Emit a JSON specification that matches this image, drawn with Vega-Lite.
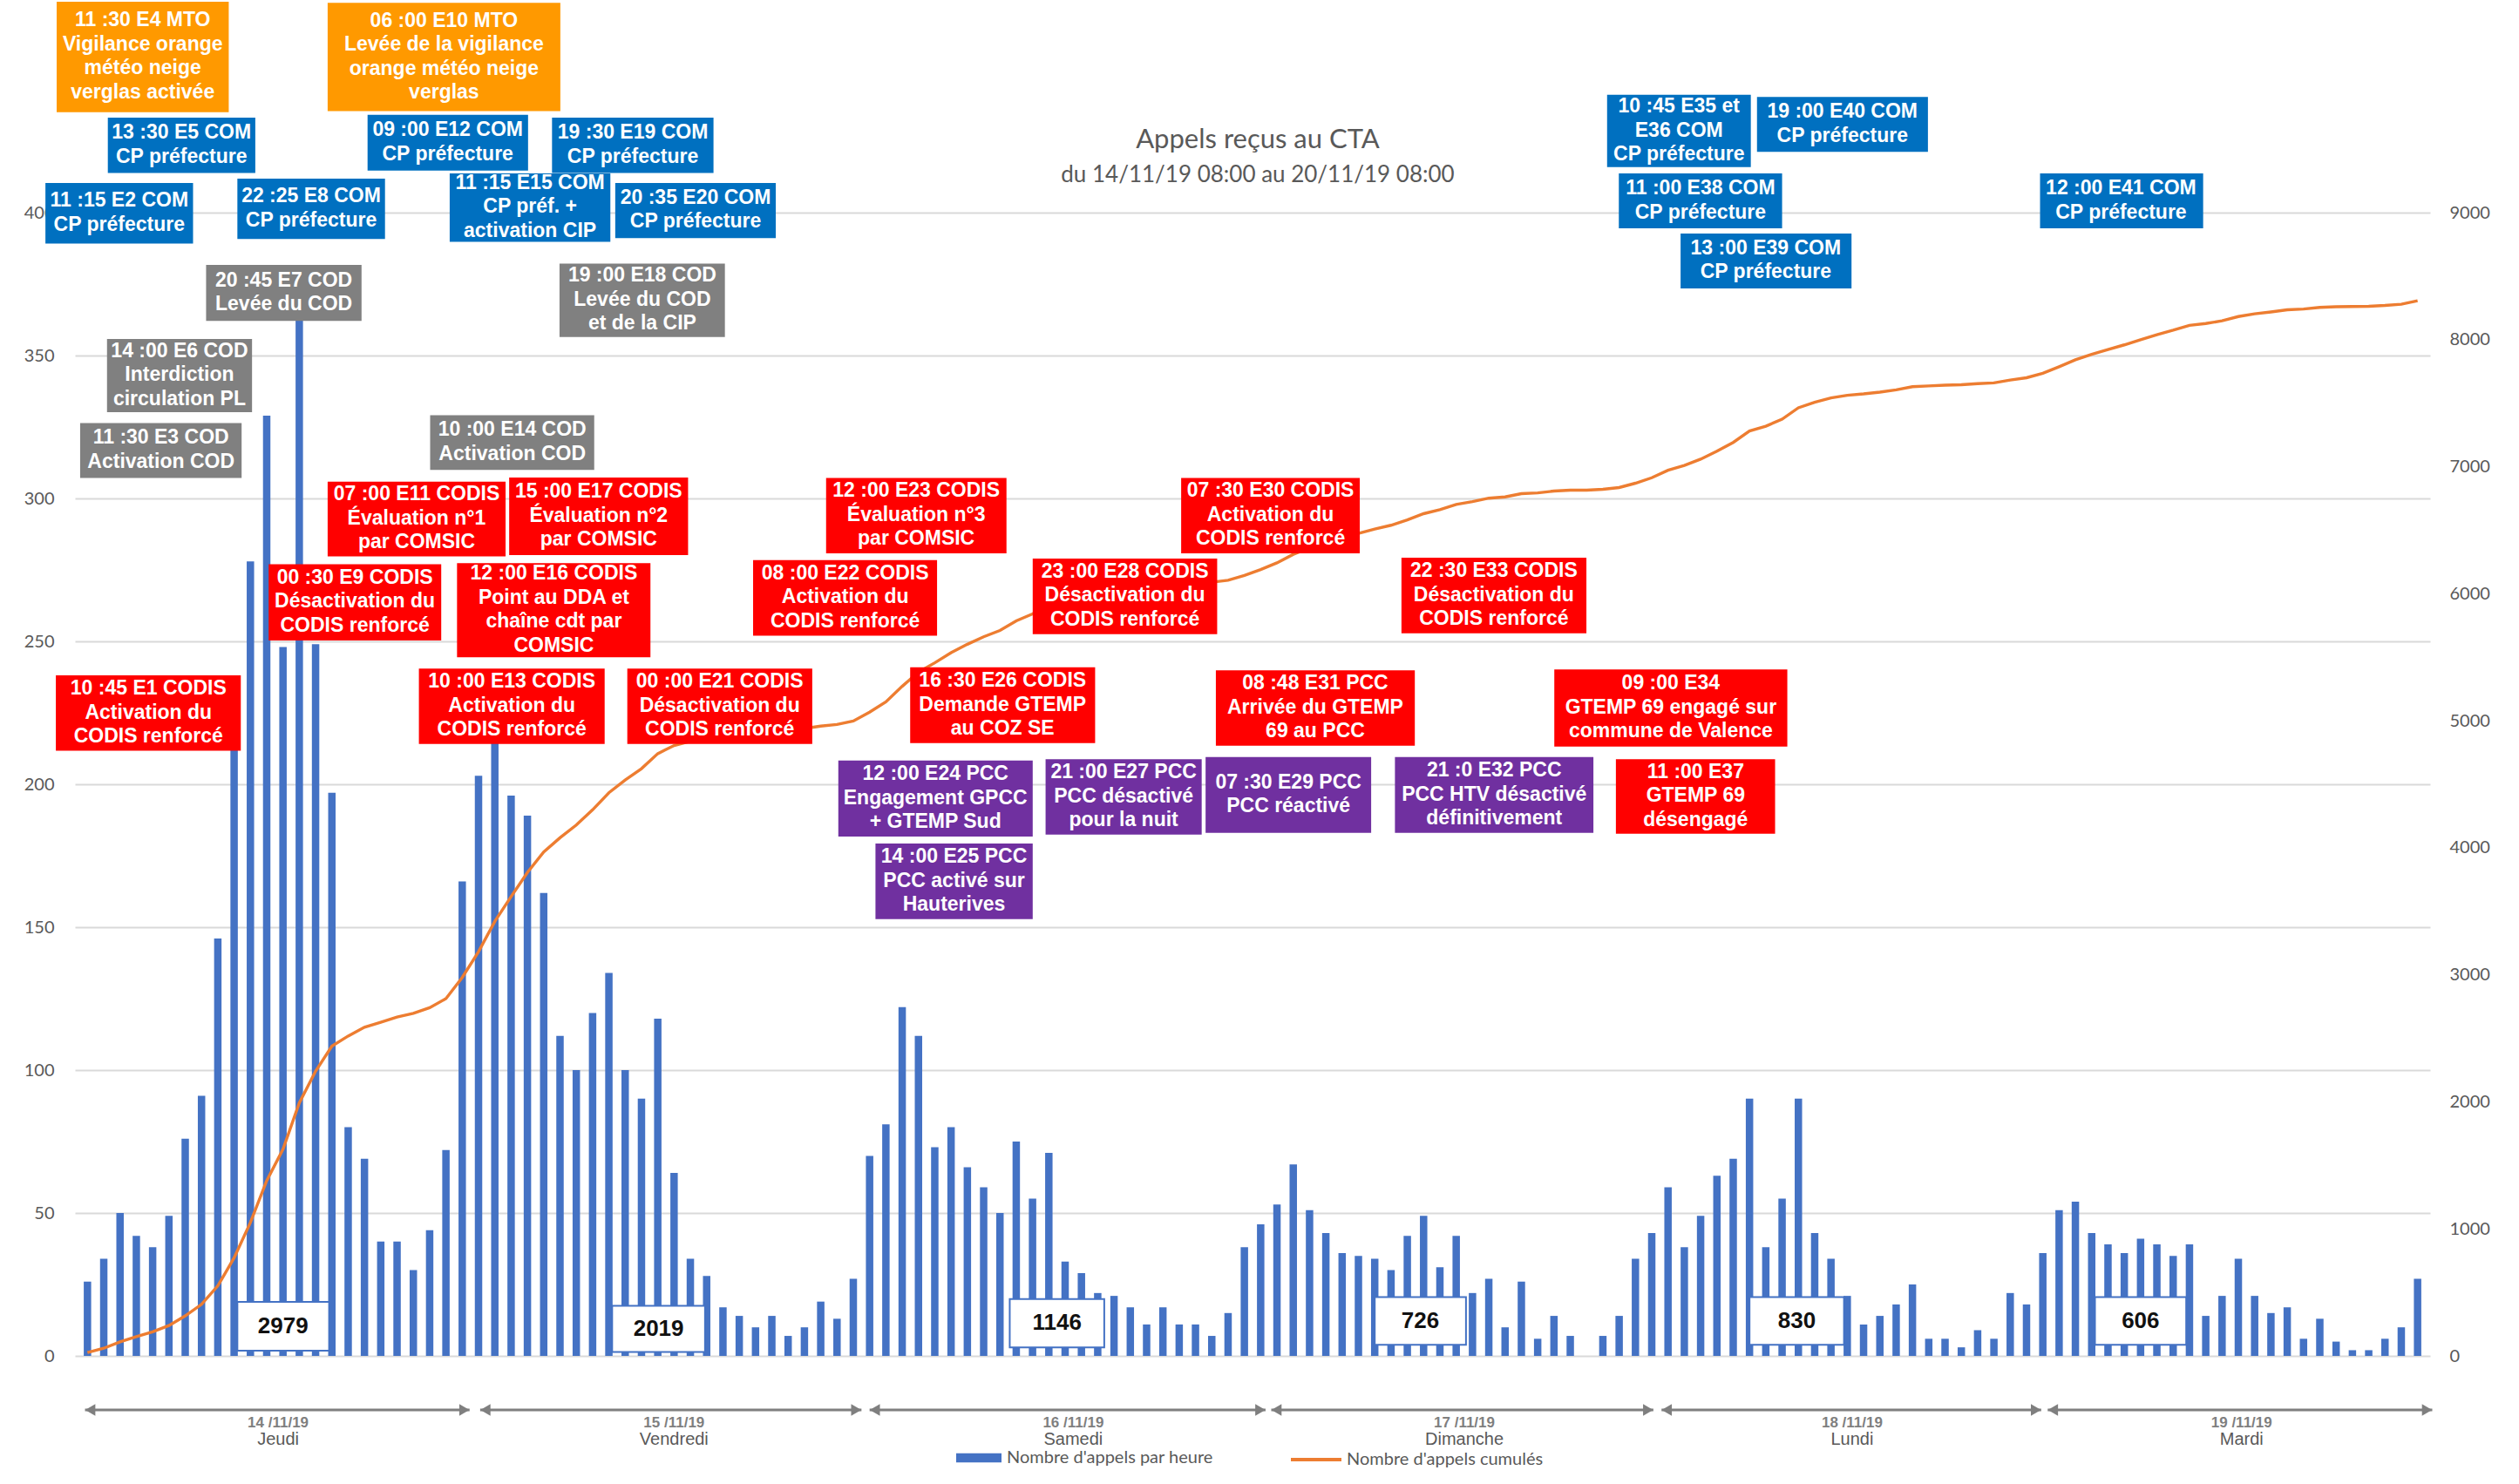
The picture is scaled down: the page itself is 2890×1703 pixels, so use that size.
{
  "$schema": "https://vega.github.io/schema/vega-lite/v6.json",
  "width": 2702,
  "height": 1312,
  "autosize": {"type": "none"},
  "padding": {"left": 86, "top": 244, "right": 102, "bottom": 147},
  "background": "white",
  "config": {"view": {"stroke": null}},
  "title": {
    "text": "Appels reçus au CTA",
    "subtitle": "du 14/11/19 08:00 au 20/11/19 08:00",
    "frame": "group",
    "anchor": "middle",
    "offset": -213,
    "dx": 6,
    "font": "Lato",
    "fontSize": 31,
    "fontWeight": "normal",
    "color": "#595959",
    "subtitleFont": "Lato",
    "subtitleFontSize": 26,
    "subtitleColor": "#595959",
    "subtitlePadding": 11
  },
  "datasets": {
    "calls": [
      {"h":0,"n":26},{"h":1,"n":34},{"h":2,"n":50},{"h":3,"n":42},{"h":4,"n":38},{"h":5,"n":49},{"h":6,"n":76},{"h":7,"n":91},{"h":8,"n":146},{"h":9,"n":220},{"h":10,"n":278},{"h":11,"n":329},{"h":12,"n":248},{"h":13,"n":365},{"h":14,"n":249},{"h":15,"n":197},{"h":16,"n":80},{"h":17,"n":69},{"h":18,"n":40},{"h":19,"n":40},{"h":20,"n":30},{"h":21,"n":44},{"h":22,"n":72},{"h":23,"n":166},
      {"h":24,"n":203},{"h":25,"n":238},{"h":26,"n":196},{"h":27,"n":189},{"h":28,"n":162},{"h":29,"n":112},{"h":30,"n":100},{"h":31,"n":120},{"h":32,"n":134},{"h":33,"n":100},{"h":34,"n":90},{"h":35,"n":118},{"h":36,"n":64},{"h":37,"n":34},{"h":38,"n":28},{"h":39,"n":17},{"h":40,"n":14},{"h":41,"n":10},{"h":42,"n":14},{"h":43,"n":7},{"h":44,"n":10},{"h":45,"n":19},{"h":46,"n":13},{"h":47,"n":27},
      {"h":48,"n":70},{"h":49,"n":81},{"h":50,"n":122},{"h":51,"n":112},{"h":52,"n":73},{"h":53,"n":80},{"h":54,"n":66},{"h":55,"n":59},{"h":56,"n":50},{"h":57,"n":75},{"h":58,"n":55},{"h":59,"n":71},{"h":60,"n":33},{"h":61,"n":29},{"h":62,"n":22},{"h":63,"n":21},{"h":64,"n":17},{"h":65,"n":11},{"h":66,"n":17},{"h":67,"n":11},{"h":68,"n":11},{"h":69,"n":7},{"h":70,"n":15},{"h":71,"n":38},
      {"h":72,"n":46},{"h":73,"n":53},{"h":74,"n":67},{"h":75,"n":51},{"h":76,"n":43},{"h":77,"n":36},{"h":78,"n":35},{"h":79,"n":34},{"h":80,"n":30},{"h":81,"n":42},{"h":82,"n":49},{"h":83,"n":31},{"h":84,"n":42},{"h":85,"n":22},{"h":86,"n":27},{"h":87,"n":10},{"h":88,"n":26},{"h":89,"n":6},{"h":90,"n":14},{"h":91,"n":7},{"h":92,"n":0},{"h":93,"n":7},{"h":94,"n":14},{"h":95,"n":34},
      {"h":96,"n":43},{"h":97,"n":59},{"h":98,"n":38},{"h":99,"n":49},{"h":100,"n":63},{"h":101,"n":69},{"h":102,"n":90},{"h":103,"n":38},{"h":104,"n":55},{"h":105,"n":90},{"h":106,"n":43},{"h":107,"n":34},{"h":108,"n":21},{"h":109,"n":11},{"h":110,"n":14},{"h":111,"n":18},{"h":112,"n":25},{"h":113,"n":6},{"h":114,"n":6},{"h":115,"n":3},{"h":116,"n":9},{"h":117,"n":6},{"h":118,"n":22},{"h":119,"n":18},
      {"h":120,"n":36},{"h":121,"n":51},{"h":122,"n":54},{"h":123,"n":43},{"h":124,"n":39},{"h":125,"n":36},{"h":126,"n":41},{"h":127,"n":39},{"h":128,"n":35},{"h":129,"n":39},{"h":130,"n":14},{"h":131,"n":21},{"h":132,"n":34},{"h":133,"n":21},{"h":134,"n":15},{"h":135,"n":17},{"h":136,"n":6},{"h":137,"n":13},{"h":138,"n":5},{"h":139,"n":2},{"h":140,"n":2},{"h":141,"n":6},{"h":142,"n":10},{"h":143,"n":27}
    ],
    "totals": [
      {"x1":9.2,"x2":14.83,"xm":12.0,"y1":1.8,"y2":18.9,"ym":10.35,"total":"2979"},
      {"x1":32.2,"x2":37.9,"xm":35.05,"y1":1.4,"y2":17.5,"ym":9.45,"total":"2019"},
      {"x1":56.6,"x2":62.4,"xm":59.5,"y1":3.0,"y2":19.9,"ym":11.45,"total":"1146"},
      {"x1":79.0,"x2":84.6,"xm":81.8,"y1":3.9,"y2":20.6,"ym":12.25,"total":"726"},
      {"x1":102.0,"x2":107.8,"xm":104.9,"y1":3.9,"y2":20.6,"ym":12.25,"total":"830"},
      {"x1":123.2,"x2":128.8,"xm":126.0,"y1":3.9,"y2":20.6,"ym":12.25,"total":"606"}
    ],
    "days": [
      {"a0":-0.15,"a1":23.45,"m":11.7,"date":"14 /11/19","name":"Jeudi"},
      {"a0":24.1,"a1":47.5,"m":36.0,"date":"15 /11/19","name":"Vendredi"},
      {"a0":48.0,"a1":72.3,"m":60.5,"date":"16 /11/19","name":"Samedi"},
      {"a0":72.65,"a1":96.1,"m":84.5,"date":"17 /11/19","name":"Dimanche"},
      {"a0":96.6,"a1":119.9,"m":108.3,"date":"18 /11/19","name":"Lundi"},
      {"a0":120.3,"a1":143.9,"m":132.2,"date":"19 /11/19","name":"Mardi"}
    ],
    "notes": [
      {"x1":-1.89,"x2":8.67,"y1":473.8,"y2":435.1,"xm":3.39,"yt":471.27,"cat":"MTO","txt":"11 :30 E4 MTO\nVigilance orange\nmétéo neige\nverglas activée"},
      {"x1":14.74,"x2":29.02,"y1":473.4,"y2":435.5,"xm":21.88,"yt":471.17,"cat":"MTO","txt":"06 :00 E10 MTO\nLevée de la vigilance\norange météo neige\nverglas"},
      {"x1":1.25,"x2":10.30,"y1":433.2,"y2":413.9,"xm":5.77,"yt":431.98,"cat":"COM","txt":"13 :30 E5 COM\nCP préfecture"},
      {"x1":-2.58,"x2":6.48,"y1":410.4,"y2":389.2,"xm":1.95,"yt":408.18,"cat":"COM","txt":"11 :15 E2 COM\nCP préfecture"},
      {"x1":9.20,"x2":18.26,"y1":411.9,"y2":390.8,"xm":13.73,"yt":409.68,"cat":"COM","txt":"22 :25 E8 COM\nCP préfecture"},
      {"x1":17.19,"x2":27.04,"y1":434.2,"y2":414.7,"xm":22.11,"yt":432.88,"cat":"COM","txt":"09 :00 E12 COM\nCP préfecture"},
      {"x1":28.51,"x2":38.42,"y1":433.2,"y2":413.9,"xm":33.47,"yt":431.98,"cat":"COM","txt":"19 :30 E19 COM\nCP préfecture"},
      {"x1":22.23,"x2":32.09,"y1":413.7,"y2":389.8,"xm":27.16,"yt":414.38,"cat":"COM","txt":"11 :15 E15 COM\nCP préf. +\nactivation CIP"},
      {"x1":32.39,"x2":42.24,"y1":410.4,"y2":391.1,"xm":37.32,"yt":409.18,"cat":"COM","txt":"20 :35 E20 COM\nCP préfecture"},
      {"x1":7.28,"x2":16.82,"y1":381.7,"y2":362.1,"xm":12.05,"yt":380.28,"cat":"COD","txt":"20 :45 E7 COD\nLevée du COD"},
      {"x1":28.97,"x2":39.12,"y1":382.2,"y2":356.5,"xm":34.05,"yt":381.98,"cat":"COD","txt":"19 :00 E18 COD\nLevée du COD\net de la CIP"},
      {"x1":1.20,"x2":10.10,"y1":355.8,"y2":330.2,"xm":5.65,"yt":355.58,"cat":"COD","txt":"14 :00 E6 COD\nInterdiction\ncirculation PL"},
      {"x1":-0.45,"x2":9.46,"y1":326.4,"y2":307.2,"xm":4.51,"yt":325.18,"cat":"COD","txt":"11 :30 E3 COD\nActivation COD"},
      {"x1":21.03,"x2":31.10,"y1":329.1,"y2":310.0,"xm":26.07,"yt":327.98,"cat":"COD","txt":"10 :00 E14 COD\nActivation COD"},
      {"x1":-1.94,"x2":9.41,"y1":238.1,"y2":211.7,"xm":3.74,"yt":237.48,"cat":"CODIS","txt":"10 :45 E1 CODIS\nActivation du\nCODIS renforcé"},
      {"x1":11.12,"x2":21.71,"y1":277.0,"y2":250.3,"xm":16.41,"yt":276.28,"cat":"CODIS","txt":"00 :30 E9 CODIS\nDésactivation du\nCODIS renforcé"},
      {"x1":14.74,"x2":25.66,"y1":305.9,"y2":279.7,"xm":20.2,"yt":305.38,"cat":"CODIS","txt":"07 :00 E11 CODIS\nÉvaluation n°1\npar COMSIC"},
      {"x1":25.88,"x2":36.86,"y1":307.3,"y2":280.2,"xm":31.37,"yt":306.38,"cat":"CODIS","txt":"15 :00 E17 CODIS\nÉvaluation n°2\npar COMSIC"},
      {"x1":22.68,"x2":34.55,"y1":277.4,"y2":244.4,"xm":28.62,"yt":277.67,"cat":"CODIS","txt":"12 :00 E16 CODIS\nPoint au DDA et\nchaîne cdt par\nCOMSIC"},
      {"x1":20.34,"x2":31.74,"y1":240.5,"y2":214.1,"xm":26.04,"yt":239.88,"cat":"CODIS","txt":"10 :00 E13 CODIS\nActivation du\nCODIS renforcé"},
      {"x1":33.13,"x2":44.48,"y1":240.5,"y2":214.1,"xm":38.8,"yt":239.88,"cat":"CODIS","txt":"00 :00 E21 CODIS\nDésactivation du\nCODIS renforcé"},
      {"x1":40.85,"x2":52.14,"y1":278.4,"y2":252.0,"xm":46.5,"yt":277.78,"cat":"CODIS","txt":"08 :00 E22 CODIS\nActivation du\nCODIS renforcé"},
      {"x1":45.33,"x2":56.40,"y1":307.2,"y2":280.8,"xm":50.86,"yt":306.58,"cat":"CODIS","txt":"12 :00 E23 CODIS\nÉvaluation n°3\npar COMSIC"},
      {"x1":67.12,"x2":78.08,"y1":307.2,"y2":280.8,"xm":72.6,"yt":306.58,"cat":"CODIS","txt":"07 :30 E30 CODIS\nActivation du\nCODIS renforcé"},
      {"x1":58.01,"x2":69.33,"y1":279.0,"y2":252.5,"xm":63.67,"yt":278.38,"cat":"CODIS","txt":"23 :00 E28 CODIS\nDésactivation du\nCODIS renforcé"},
      {"x1":80.64,"x2":91.99,"y1":279.3,"y2":252.8,"xm":86.31,"yt":278.58,"cat":"CODIS","txt":"22 :30 E33 CODIS\nDésactivation du\nCODIS renforcé"},
      {"x1":50.49,"x2":61.84,"y1":240.9,"y2":214.4,"xm":56.16,"yt":240.18,"cat":"CODIS","txt":"16 :30 E26 CODIS\nDemande GTEMP\nau COZ SE"},
      {"x1":69.25,"x2":81.46,"y1":239.9,"y2":213.5,"xm":75.35,"yt":239.28,"cat":"CODIS","txt":"08 :48 E31 PCC\nArrivée du GTEMP\n69 au PCC"},
      {"x1":90.02,"x2":104.32,"y1":240.2,"y2":213.2,"xm":97.17,"yt":239.28,"cat":"CODIS","txt":"09 :00 E34\nGTEMP 69 engagé sur\ncommune de Valence"},
      {"x1":93.80,"x2":103.57,"y1":208.8,"y2":182.7,"xm":98.69,"yt":208.38,"cat":"CODIS","txt":"11 :00 E37\nGTEMP 69\ndésengagé"},
      {"x1":46.08,"x2":58.01,"y1":208.3,"y2":181.7,"xm":52.04,"yt":207.58,"cat":"PCC","txt":"12 :00 E24 PCC\nEngagement GPCC\n+ GTEMP Sud"},
      {"x1":58.80,"x2":68.38,"y1":208.8,"y2":182.4,"xm":63.59,"yt":208.18,"cat":"PCC","txt":"21 :00 E27 PCC\nPCC désactivé\npour la nuit"},
      {"x1":68.62,"x2":78.78,"y1":209.5,"y2":183.0,"xm":73.7,"yt":204.58,"cat":"PCC","txt":"07 :30 E29 PCC\nPCC réactivé"},
      {"x1":80.24,"x2":92.42,"y1":209.5,"y2":183.0,"xm":86.33,"yt":208.78,"cat":"PCC","txt":"21 :0 E32 PCC\nPCC HTV désactivé\ndéfinitivement"},
      {"x1":48.36,"x2":58.01,"y1":179.3,"y2":152.8,"xm":53.18,"yt":178.58,"cat":"PCC","txt":"14 :00 E25 PCC\nPCC activé sur\nHauterives"},
      {"x1":93.26,"x2":102.08,"y1":441.2,"y2":415.9,"xm":97.67,"yt":441.08,"cat":"COM","txt":"10 :45 E35 et\nE36 COM\nCP préfecture"},
      {"x1":102.46,"x2":112.95,"y1":440.5,"y2":421.3,"xm":107.7,"yt":439.28,"cat":"COM","txt":"19 :00 E40 COM\nCP préfecture"},
      {"x1":93.98,"x2":104.0,"y1":413.7,"y2":394.5,"xm":98.99,"yt":412.48,"cat":"COM","txt":"11 :00 E38 COM\nCP préfecture"},
      {"x1":97.77,"x2":108.26,"y1":392.7,"y2":373.5,"xm":103.0,"yt":391.48,"cat":"COM","txt":"13 :00 E39 COM\nCP préfecture"},
      {"x1":119.83,"x2":129.84,"y1":413.7,"y2":394.5,"xm":124.8,"yt":412.48,"cat":"COM","txt":"12 :00 E41 COM\nCP préfecture"}
    ]
  },
  "layer": [
    {
      "data": {"name": "calls"},
      "mark": {"type": "bar", "width": 8.5},
      "encoding": {
        "x": {
          "field": "h", "type": "quantitative",
          "scale": {"domain": [-0.5, 143.5], "nice": false, "zero": false},
          "axis": {
            "title": null, "orient": "bottom", "grid": false, "domain": false, "ticks": false, "tickSize": 0,
            "values": [0,2,4,6,8,10,12,14,16,18,20,22,24,26,28,30,32,34,36,38,40,42,44,46,48,50,52,54,56,58,60,62,64,66,68,70,72,74,76,78,80,82,84,86,88,90,92,94,96,98,100,102,104,106,108,110,112,114,116,118,120,122,124,126,128,130,132,134,136,138,140,142],
            "labelExpr": "((datum.value + 8) % 24 < 10 ? '0' : '') + ((datum.value + 8) % 24)",
            "labelFont": "Lato", "labelFontSize": 19, "labelColor": "#595959",
            "labelPadding": 21, "labelFlush": false, "labelOverlap": false
          }
        },
        "y": {
          "field": "n", "type": "quantitative",
          "scale": {"domain": [0, 400], "nice": false, "zero": true},
          "axis": {
            "title": null, "orient": "left", "values": [0,50,100,150,200,250,300,350,400], "format": "d",
            "grid": true, "gridColor": "#D9D9D9", "gridWidth": 2, "domain": false, "ticks": false, "tickSize": 0,
            "labelFont": "Lato", "labelFontSize": 20, "labelColor": "#595959", "labelPadding": 24
          }
        },
        "color": {
          "datum": "Nombre d'appels par heure",
          "scale": {"range": ["#4472C4"]},
          "legend": {
            "orient": "none", "legendX": 1011, "legendY": 1403, "title": null, "padding": 0,
            "symbolType": "M-1,-0.2H1V0.2H-1Z", "symbolSize": 2704, "symbolStrokeWidth": 0,
            "labelFont": "Lato", "labelFontSize": 20, "labelColor": "#595959", "labelOffset": 6, "labelLimit": 500
          }
        }
      }
    },
    {
      "data": {"name": "calls"},
      "transform": [
        {"window": [{"op": "sum", "field": "n", "as": "c"}], "sort": [{"field": "h", "order": "ascending"}], "frame": [null, 0]}
      ],
      "mark": {"type": "line", "strokeWidth": 3.4},
      "encoding": {
        "x": {"field": "h", "type": "quantitative", "axis": null},
        "y": {
          "field": "c", "type": "quantitative",
          "scale": {"domain": [0, 9000], "nice": false, "zero": true},
          "axis": {
            "title": null, "orient": "right", "values": [0,1000,2000,3000,4000,5000,6000,7000,8000,9000], "format": "d",
            "grid": false, "domain": false, "ticks": false, "tickSize": 0,
            "labelFont": "Lato", "labelFontSize": 20, "labelColor": "#595959", "labelPadding": 22
          }
        },
        "stroke": {
          "datum": "Nombre d'appels cumulés",
          "scale": {"range": ["#ED7D31"]},
          "legend": {
            "orient": "none", "legendX": 1393, "legendY": 1400, "title": null, "padding": 0,
            "symbolType": "M-1,0H1", "symbolSize": 3364, "symbolStrokeWidth": 4,
            "labelFont": "Lato", "labelFontSize": 20, "labelColor": "#595959", "labelOffset": 4, "labelLimit": 500
          }
        }
      }
    },
    {
      "layer": [
        {
          "mark": {"type": "rect", "filled": false, "stroke": "#D9D9D9", "strokeWidth": 2},
          "encoding": {
            "x": {"datum": -4.55, "type": "quantitative", "axis": null},
            "x2": {"datum": 148.3},
            "y": {"datum": 438.4, "type": "quantitative", "scale": {"domain": [0, 400], "nice": false, "zero": false}, "axis": null},
            "y2": {"datum": -41.5}
          }
        },
        {
          "data": {"name": "totals"},
          "mark": {"type": "rect", "fill": "white", "stroke": "#4472C4", "strokeWidth": 2},
          "encoding": {
            "x": {"field": "x1", "type": "quantitative", "axis": null},
            "x2": {"field": "x2"},
            "y": {"field": "y1", "type": "quantitative", "axis": null},
            "y2": {"field": "y2"}
          }
        },
        {
          "data": {"name": "totals"},
          "mark": {"type": "text", "font": "Liberation Sans", "fontWeight": "bold", "fontSize": 26, "color": "#111111", "align": "center", "baseline": "middle"},
          "encoding": {
            "x": {"field": "xm", "type": "quantitative", "axis": null},
            "y": {"field": "ym", "type": "quantitative", "axis": null},
            "text": {"field": "total"}
          }
        },
        {
          "data": {"name": "notes"},
          "mark": {"type": "rect"},
          "encoding": {
            "x": {"field": "x1", "type": "quantitative", "axis": null},
            "x2": {"field": "x2"},
            "y": {"field": "y1", "type": "quantitative", "axis": null},
            "y2": {"field": "y2"},
            "fill": {
              "field": "cat", "type": "nominal",
              "scale": {"domain": ["MTO", "COM", "COD", "CODIS", "PCC"], "range": ["#FF9900", "#0070C0", "#808080", "#FF0000", "#7030A0"]},
              "legend": null
            }
          }
        },
        {
          "data": {"name": "notes"},
          "mark": {"type": "text", "font": "Liberation Sans", "fontWeight": "bold", "fontSize": 23, "lineHeight": 27.5, "lineBreak": "\n", "color": "white", "align": "center", "baseline": "line-top"},
          "encoding": {
            "x": {"field": "xm", "type": "quantitative", "axis": null},
            "y": {"field": "yt", "type": "quantitative", "axis": null},
            "text": {"field": "txt"}
          }
        },
        {
          "data": {"name": "days"},
          "mark": {"type": "rule", "color": "#7F7F7F", "strokeWidth": 3},
          "encoding": {
            "x": {"field": "a0", "type": "quantitative", "axis": null},
            "x2": {"field": "a1"},
            "y": {"datum": -18.9, "type": "quantitative", "axis": null}
          }
        },
        {
          "data": {"name": "days"},
          "mark": {"type": "point", "shape": "triangle-left", "filled": true, "color": "#7F7F7F", "size": 180, "opacity": 1, "xOffset": 6},
          "encoding": {
            "x": {"field": "a0", "type": "quantitative", "axis": null},
            "y": {"datum": -18.9, "type": "quantitative", "axis": null}
          }
        },
        {
          "data": {"name": "days"},
          "mark": {"type": "point", "shape": "triangle-right", "filled": true, "color": "#7F7F7F", "size": 180, "opacity": 1, "xOffset": -6},
          "encoding": {
            "x": {"field": "a1", "type": "quantitative", "axis": null},
            "y": {"datum": -18.9, "type": "quantitative", "axis": null}
          }
        },
        {
          "data": {"name": "days"},
          "mark": {"type": "text", "font": "Liberation Sans", "fontWeight": "bold", "fontSize": 17, "color": "#7F7F7F", "align": "center", "baseline": "middle"},
          "encoding": {
            "x": {"field": "m", "type": "quantitative", "axis": null},
            "y": {"datum": -23.5, "type": "quantitative", "axis": null},
            "text": {"field": "date"}
          }
        },
        {
          "data": {"name": "days"},
          "mark": {"type": "text", "font": "Liberation Sans", "fontSize": 20, "color": "#595959", "align": "center", "baseline": "middle"},
          "encoding": {
            "x": {"field": "m", "type": "quantitative", "axis": null},
            "y": {"datum": -29.2, "type": "quantitative", "axis": null},
            "text": {"field": "name"}
          }
        }
      ]
    }
  ],
  "resolve": {"scale": {"y": "independent"}}
}
